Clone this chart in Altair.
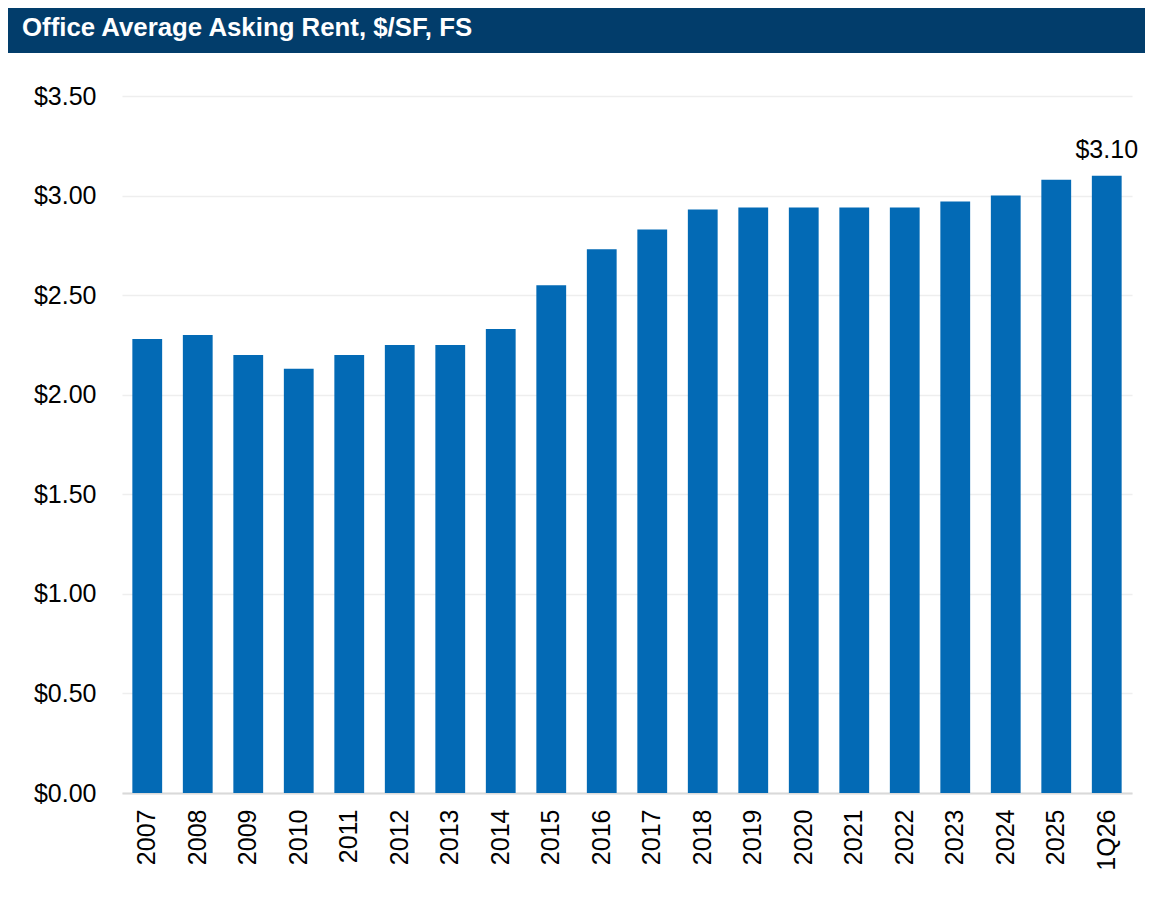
import altair as alt
import pandas as pd

title_text = "Office Average Asking Rent, $/SF, FS"
periods = ["2007", "2008", "2009", "2010", "2011", "2012", "2013", "2014", "2015",
           "2016", "2017", "2018", "2019", "2020", "2021", "2022", "2023", "2024",
           "2025", "1Q26"]
rents = [2.28, 2.30, 2.20, 2.13, 2.20, 2.25, 2.25, 2.33, 2.55,
         2.73, 2.83, 2.93, 2.94, 2.94, 2.94, 2.94, 2.97, 3.00,
         3.08, 3.10]
y_ticks = [0, 0.5, 1.0, 1.5, 2.0, 2.5, 3.0, 3.5]
labelled_period = "1Q26"

FONT = "Liberation Sans"
BAR = "#036AB5"
HEADER = "#023D6B"

df = pd.DataFrame({"period": periods, "rent": rents})

x_enc = alt.X("period:N", sort=periods,
              scale=alt.Scale(paddingInner=0.41, paddingOuter=0.205),
              axis=alt.Axis(title=None, labelAngle=270, labelFontSize=25,
                            labelFont=FONT, labelColor="#000000", labelPadding=16,
                            ticks=False, tickSize=0, domain=True,
                            domainColor="#d9d9d9", domainWidth=2, grid=False))
y_enc = alt.Y("rent:Q", scale=alt.Scale(domain=[0, 3.5], nice=False),
              axis=alt.Axis(title=None, values=y_ticks, format="$.2f",
                            labelFontSize=25, labelFont=FONT, labelColor="#000000",
                            labelPadding=26, ticks=False, tickSize=0, domain=False,
                            grid=True, gridColor="#eeeeee", gridWidth=1.5))

bars = alt.Chart(df).mark_bar(color=BAR).encode(x=x_enc, y=y_enc)

label = alt.Chart(df).transform_filter(
    alt.datum.period == labelled_period
).mark_text(font=FONT, fontSize=25, color="#000000", baseline="alphabetic",
            dy=-18).encode(
    x=alt.X("period:N", sort=periods),
    y=alt.Y("rent:Q"),
    text=alt.Text("rent:Q", format="$.2f"),
)

header_df = pd.DataFrame({"t": [title_text]})
header_bg = alt.Chart(header_df).mark_rect(color=HEADER).encode(
    x=alt.value(-114), x2=alt.value(1030), y=alt.value(-88), y2=alt.value(-43)
)
header_txt = alt.Chart(header_df).mark_text(
    font=FONT, fontSize=25.8, fontWeight="bold", color="#ffffff",
    align="left", baseline="alphabetic"
).encode(x=alt.value(-100), y=alt.value(-60), text="t:N")

chart = alt.layer(bars, label, header_bg, header_txt).properties(
    width=1010, height=697,
    padding={"left": 114, "top": 88, "right": 13, "bottom": 100},
    autosize=alt.AutoSizeParams(type="none"),
    background="#ffffff",
).configure_view(stroke=None)

chart.save("out.html", embed_options={"renderer": "svg", "actions": False})
